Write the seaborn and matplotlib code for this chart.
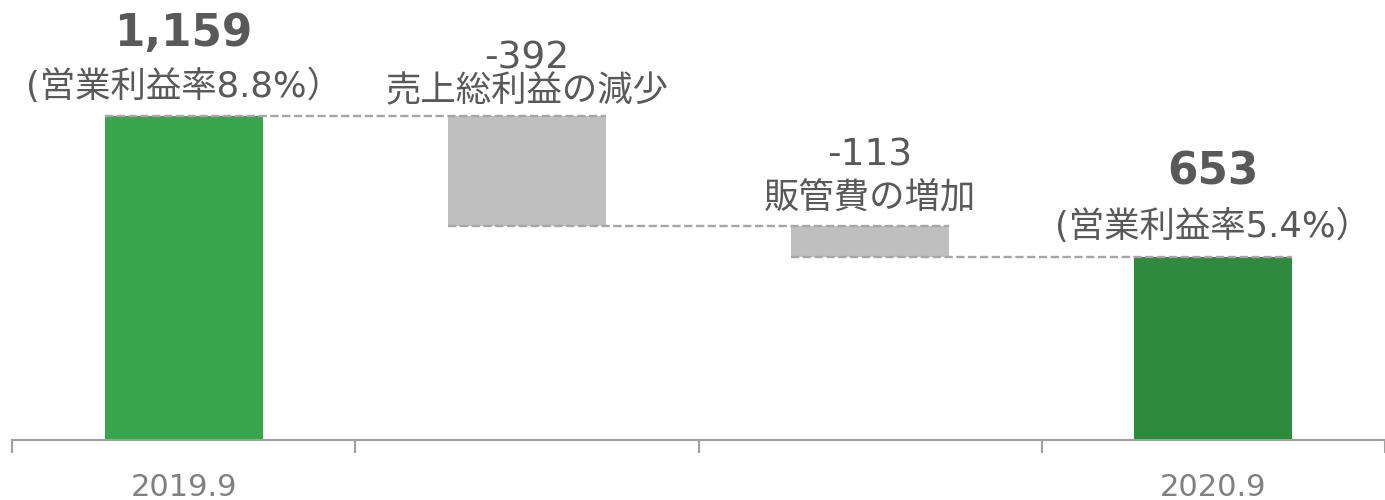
import matplotlib
matplotlib.use("Agg")
import matplotlib.pyplot as plt
import seaborn as sns
import numpy as np

sns.set_style("white")
plt.rcParams['font.family'] = ['DejaVu Sans', 'Noto Sans CJK JP']

# data
categories = ["2019.9", "売上総利益の減少", "販管費の増加", "2020.9"]
tick_labels = ["2019.9", "", "", "2020.9"]
start_value = 1159
deltas = [-392, -113]
end_value = 653
value_labels = ["1,159", "-392", "-113", "653"]
sub_labels = ["(営業利益率8.8%）", "売上総利益の減少", "販管費の増加", "(営業利益率5.4%）"]

colors = ["#38a44c", "#bfbfbf", "#bfbfbf", "#2e8b3e"]
text_col = "#595959"
axis_col = "#a0a0a0"

# waterfall geometry
levels = [start_value]
for d in deltas:
    levels.append(levels[-1] + d)
heights = [start_value] + [abs(d) for d in deltas] + [end_value]
bottoms = [0] + [levels[i + 1] for i in range(len(deltas))] + [0]
tops = [b + h for b, h in zip(bottoms, heights)]

fig = plt.figure(figsize=(13.85, 5), dpi=100)
ax = fig.add_axes([12 / 1385, 60 / 500, 1373 / 1385, 440 / 500])

bw = 0.46
sns.barplot(ax=ax, x=categories, y=heights, hue=categories, palette=colors,
            legend=False, width=bw, saturation=1, linewidth=0)
for p, b in zip(ax.patches, bottoms):
    p.set_y(b)

# connector lines
conn = [start_value, levels[1], end_value]
for i, lvl in enumerate(conn):
    ax.plot([i - bw / 2, i + 1 + bw / 2], [lvl, lvl], ls=(0, (3.5, 1.5)),
            color="#a6a6a6", lw=1.7, zorder=3)

ax.set_xlim(-0.5, 3.5)
ax.set_ylim(0, 1574)

# labels
num_off = [59.5, 41.5, 50.5, 61.5]
sub_off = [21.5, 17.5, 20.5, 22.5]
num_style = [dict(fontsize=31.5, fontweight="bold"), dict(fontsize=27),
             dict(fontsize=27), dict(fontsize=31.5, fontweight="bold")]
for i in range(4):
    ax.annotate(value_labels[i], (i, tops[i]), xytext=(0, num_off[i]),
                textcoords="offset points", ha="center", va="center",
                color=text_col, **num_style[i])
    ax.annotate(sub_labels[i], (i, tops[i]), xytext=(0, sub_off[i]),
                textcoords="offset points", ha="center", va="center",
                color=text_col, fontsize=25.5)

# axis
for s in ["left", "top", "right"]:
    ax.spines[s].set_visible(False)
ax.spines["bottom"].set_color(axis_col)
ax.spines["bottom"].set_linewidth(1.5)
ax.set_yticks([])
ax.set_xticks(np.arange(-0.5, 4, 1))
ax.set_xticklabels([])
ax.tick_params(axis="x", which="major", bottom=True, length=9, width=1.5,
               color=axis_col, direction="out")
ax.set_xticks(range(4), minor=True)
ax.set_xticklabels(tick_labels, minor=True)
ax.tick_params(axis="x", which="minor", bottom=True, length=0, pad=24,
               labelsize=22, labelcolor="#808080")
ax.set_xlabel("")
ax.set_ylabel("")

fig.savefig("out.png", dpi=100, facecolor="white")
